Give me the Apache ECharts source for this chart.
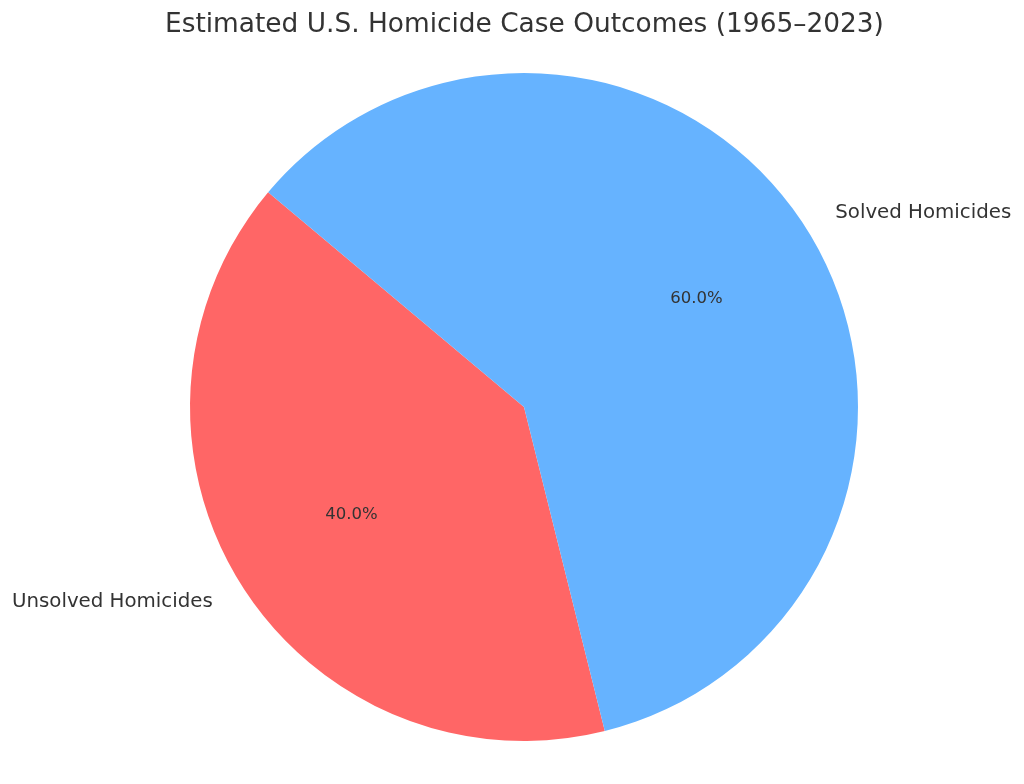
<!DOCTYPE html>
<html><head><meta charset="utf-8">
<script src="https://cdn.jsdelivr.net/npm/echarts@6/dist/echarts.min.js"></script>
<style>html,body{margin:0;padding:0;background:#fff}#c{width:1024px;height:784px}</style>
</head><body><div id="c"></div>
<script>
const categories = ['Unsolved Homicides', 'Solved Homicides'];
const values = [40, 60];
const colors = ['#ff6666', '#66b3ff'];
const titleText = 'Estimated U.S. Homicide Case Outcomes (1965–2023)';

const font = 'DejaVu Sans';
const chart = echarts.init(document.getElementById('c'), null, {renderer: 'canvas'});
const data = categories.map((n, i) => ({name: n, value: values[i], itemStyle: {color: colors[i]}}));
const R = 334;
chart.setOption({
  animation: false,
  title: {text: titleText, left: 160, top: 7,
    textStyle: {fontFamily: font, fontSize: 26.4, fontWeight: 'normal', color: '#333'}},
  series: [
    {type: 'pie', center: [524, 407], radius: [0, R], startAngle: 140, clockwise: false,
     avoidLabelOverlap: false, silent: true,
     data: data,
     itemStyle: {borderWidth: 0},
     label: {show: true, position: 'outside', formatter: '{b}', fontFamily: font, fontSize: 19.8, color: '#333', distanceToLabelLine: 0},
     labelLine: {show: false, length: 33, length2: 0}
    },
    {type: 'pie', center: [524, 407], radius: [R * 0.2, R], startAngle: 140, clockwise: false,
     avoidLabelOverlap: false, silent: true,
     data: data.map(d => ({name: d.name, value: d.value, itemStyle: {color: 'rgba(0,0,0,0)'}})),
     label: {show: true, position: 'inside', formatter: p => p.value.toFixed(1) + '%', fontFamily: font, fontSize: 16.5, color: '#333'},
     labelLine: {show: false}
    }
  ]
});
</script></body></html>
